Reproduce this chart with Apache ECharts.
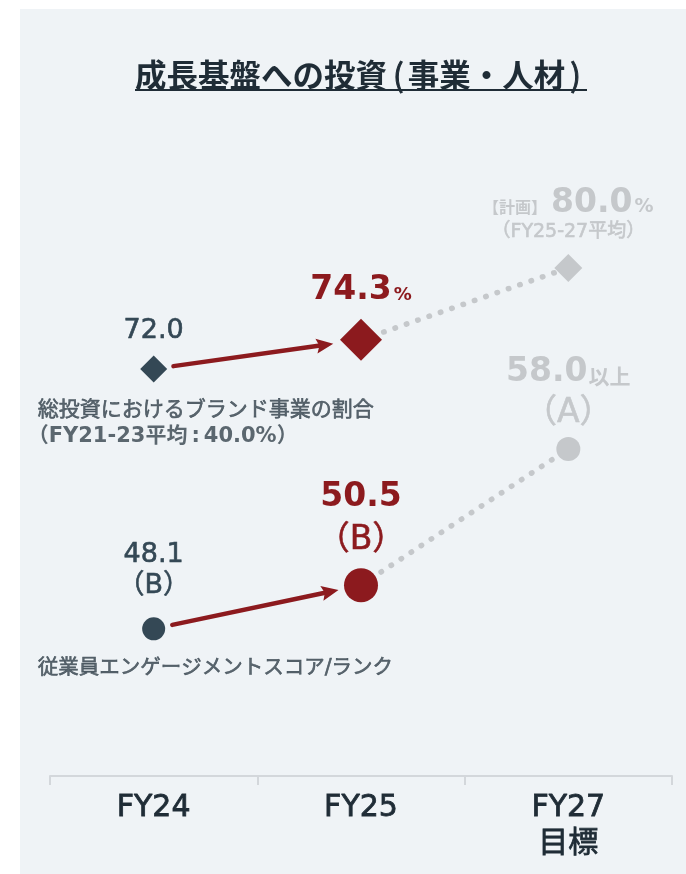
<!DOCTYPE html>
<html>
<head>
<meta charset="utf-8">
<script src="https://cdn.jsdelivr.net/npm/echarts@6/dist/echarts.min.js"></script>
<style>
  html, body { margin: 0; padding: 0; background: #ffffff; }
  #chart { position: absolute; left: 20px; top: 9px; width: 666px; height: 865px; background: #eff3f6; }
</style>
</head>
<body>
<div id="chart"></div>
<script>
// Fiscal years and their axis captions
const categories = ['FY24', 'FY25', 'FY27'];
const categoryLabels = ['FY24', 'FY25', 'FY27\n目標'];

// Share of total investment going to the brand business (%)
const brandShare = [72.0, 74.3, 80.0];
// Employee engagement score and rank
const engagementScore = [48.1, 50.5, 58.0];
const engagementRank = ['B', 'B', 'A'];

const titleParts = ['成長基盤への投資', '事業・人材'];
const brandCaption = ['総投資におけるブランド事業の割合', '（FY21-23平均', '40.0%）'];
const engagementCaption = '従業員エンゲージメントスコア/ランク';
const planPrefix = '【計画】';
const planNote = '（FY25-27平均）';
const targetSuffix = '以上';

const CJK = "'Noto Sans CJK JP', sans-serif";
const LAT = "'DejaVu Sans', 'Noto Sans CJK JP', sans-serif";
const DARK = '#344855';
const TEXT_DARK = '#1f2c36';
const CAPTION = '#36434d';
const RED = '#8c1a1e';
const GRAY = '#c5c8cb';
const BG = '#eff3f6';

// slight outline in the text colour gives a medium weight
const medium = color => ({ textBorderColor: color, textBorderWidth: 0.6 });

const rich = {
  dk: Object.assign({ fontFamily: LAT, fontSize: 27, color: DARK, lineHeight: 32 }, medium(DARK)),
  dkP: Object.assign({ fontFamily: LAT, fontSize: 27, color: DARK, lineHeight: 30 }, medium(DARK)),
  rd: { fontFamily: LAT, fontSize: 33, fontWeight: 'bold', color: RED, lineHeight: 40 },
  rdS: { fontFamily: LAT, fontSize: 18, fontWeight: 'bold', color: RED, lineHeight: 18, verticalAlign: 'bottom', padding: [0, 0, 7, 2] },
  rdP: Object.assign({ fontFamily: LAT, fontSize: 33, color: RED, lineHeight: 46 }, medium(RED)),
  gy: { fontFamily: LAT, fontSize: 33, fontWeight: 'bold', color: GRAY, lineHeight: 40 },
  gyH: { fontFamily: LAT, fontSize: 33, fontWeight: 'bold', color: GRAY, lineHeight: 32 },
  gyS: { fontFamily: LAT, fontSize: 19, fontWeight: 'bold', color: GRAY, lineHeight: 19, verticalAlign: 'bottom', padding: [0, 0, 3, 2] },
  gyJ: { fontFamily: CJK, fontSize: 21, fontWeight: 'bold', color: GRAY, lineHeight: 21, verticalAlign: 'bottom', padding: [0, 0, 6, 1] },
  gyT: { fontFamily: CJK, fontSize: 16, fontWeight: 'bold', color: GRAY, lineHeight: 16, verticalAlign: 'bottom', padding: [0, 4, 5, 0] },
  gyN: Object.assign({ fontFamily: LAT, fontSize: 19, color: GRAY, lineHeight: 24 }, medium(GRAY)),
  gyP: Object.assign({ fontFamily: LAT, fontSize: 33, color: GRAY, lineHeight: 42 }, medium(GRAY))
};

// Marker appearance per year: past, current, target
const brandMarkers = [
  { symbol: 'diamond', size: 27, color: DARK },
  { symbol: 'diamond', size: 42, color: RED },
  { symbol: 'diamond', size: 28, color: GRAY }
];
const engagementMarkers = [
  { symbol: 'circle', size: 23, color: DARK },
  { symbol: 'circle', size: 34, color: RED },
  { symbol: 'circle', size: 24, color: GRAY }
];

const fmt1 = v => v.toFixed(1);
const rank = r => `（${r}）`;

const brandLabels = [
  { text: `{dk|${fmt1(brandShare[0])}}`, distance: 8 },
  { text: `{rd|${fmt1(brandShare[1])}}{rdS|%}`, distance: 8 },
  { text: `{gyT|${planPrefix}}{gyH|${fmt1(brandShare[2])}}{gyS|%}\n{gyN|${planNote}}`, distance: 10 }
];
const engagementLabels = [
  { text: `{dk|${fmt1(engagementScore[0])}}\n{dkP|${rank(engagementRank[0])}}`, distance: 16 },
  { text: `{rd|${fmt1(engagementScore[1])}}\n{rdP|${rank(engagementRank[1])}}`, distance: 5 },
  { text: `{gy|${fmt1(engagementScore[2])}}{gyJ|${targetSuffix}}\n{gyP|${rank(engagementRank[2])}}`, distance: 2 }
];

function markerData(values, markers, labels) {
  return values.map((v, i) => ({
    value: [categories[i], v],
    symbol: markers[i].symbol,
    symbolSize: markers[i].size,
    itemStyle: { color: markers[i].color, opacity: 1 },
    label: {
      show: true,
      position: 'top',
      distance: labels[i].distance,
      formatter: labels[i].text,
      rich: rich
    }
  }));
}

// Red arrow from the FY24 mark towards the FY25 mark, trimmed at both ends
function arrowRenderer(startGap, endGap) {
  return function (params, api) {
    const p0 = api.coord([api.value(0), api.value(1)]);
    const p1 = api.coord([api.value(2), api.value(3)]);
    const dx = p1[0] - p0[0], dy = p1[1] - p0[1];
    const len = Math.sqrt(dx * dx + dy * dy);
    const ux = dx / len, uy = dy / len;
    const sx = p0[0] + ux * startGap, sy = p0[1] + uy * startGap;
    const tx = p1[0] - ux * endGap, ty = p1[1] - uy * endGap;
    const headLen = 17, headHalf = 7.5;
    const bx = tx - ux * headLen, by = ty - uy * headLen;
    return {
      type: 'group',
      children: [
        {
          type: 'line',
          shape: { x1: sx, y1: sy, x2: bx + ux * 2, y2: by + uy * 2 },
          style: { stroke: RED, lineWidth: 4.5, lineCap: 'round' }
        },
        {
          type: 'polygon',
          shape: { points: [[tx, ty], [bx - uy * headHalf, by + ux * headHalf], [bx + ux * 3, by + uy * 3], [bx + uy * headHalf, by - ux * headHalf]] },
          style: { fill: RED }
        }
      ]
    };
  };
}

const dotted = {
  color: GRAY,
  width: 5.5,
  type: [0.5, 11.5],
  cap: 'round'
};

const captionText = size => Object.assign({ fontFamily: CJK, fontSize: size, color: CAPTION, lineHeight: 28 }, medium(CAPTION));

const chart = echarts.init(document.getElementById('chart'), null, { renderer: 'canvas' });

chart.setOption({
  backgroundColor: BG,
  animation: false,
  grid: { left: 30, right: 14, top: 91, bottom: 98 },
  graphic: [
    {
      type: 'text',
      left: 115,
      top: 50,
      style: {
        text: `{t|${titleParts[0]}}{po|(}{t|${titleParts[1]}}{pc|)}`,
        rich: {
          t: { fontFamily: CJK, fontSize: 31.5, fontWeight: 'bold', fill: TEXT_DARK, lineHeight: 32 },
          po: { fontFamily: CJK, fontSize: 31.5, fill: TEXT_DARK, lineHeight: 32, padding: [0, 4, 0, 6], stroke: TEXT_DARK, lineWidth: 1 },
          pc: { fontFamily: CJK, fontSize: 31.5, fill: TEXT_DARK, lineHeight: 32, padding: [0, 6, 0, 5], stroke: TEXT_DARK, lineWidth: 1 }
        }
      }
    },
    {
      type: 'rect',
      shape: { x: 115, y: 80, width: 452, height: 2 },
      style: { fill: TEXT_DARK }
    }
  ],
  xAxis: {
    type: 'category',
    data: categories,
    boundaryGap: true,
    axisLine: { show: true, lineStyle: { color: '#d3d7db', width: 2 } },
    axisTick: { show: true, length: 9, lineStyle: { color: '#d3d7db', width: 2 } },
    axisLabel: {
      margin: 14,
      fontFamily: LAT,
      fontSize: 30,
      color: TEXT_DARK,
      textBorderColor: TEXT_DARK,
      textBorderWidth: 0.8,
      lineHeight: 36,
      formatter: (v, i) => categoryLabels[i]
    },
    splitLine: { show: false }
  },
  yAxis: [
    { type: 'value', min: 39.75, max: 93.3, show: false },
    { type: 'value', min: 40, max: 77.2, show: false }
  ],
  series: [
    // dotted projections to the FY27 targets
    {
      type: 'line', yAxisIndex: 0, z: 1, symbol: 'none', silent: true,
      data: [null, brandShare[1], brandShare[2]],
      lineStyle: dotted
    },
    {
      type: 'line', yAxisIndex: 1, z: 1, symbol: 'none', silent: true,
      data: [null, engagementScore[1], engagementScore[2]],
      lineStyle: dotted
    },
    // FY24 -> FY25 arrows
    {
      type: 'custom', yAxisIndex: 0, z: 2, clip: false, silent: true,
      renderItem: arrowRenderer(20, 28),
      data: [[0, brandShare[0], 1, brandShare[1]]]
    },
    {
      type: 'custom', yAxisIndex: 1, z: 2, clip: false, silent: true,
      renderItem: arrowRenderer(19, 23),
      data: [[0, engagementScore[0], 1, engagementScore[1]]]
    },
    // marks with value labels
    {
      type: 'scatter', yAxisIndex: 0, z: 3,
      data: markerData(brandShare, brandMarkers, brandLabels)
    },
    {
      type: 'scatter', yAxisIndex: 1, z: 3,
      data: markerData(engagementScore, engagementMarkers, engagementLabels)
    },
    // captions under the FY24 marks
    {
      type: 'scatter', yAxisIndex: 0, z: 3, silent: true,
      symbolSize: 1, itemStyle: { color: 'transparent' },
      data: [[categories[0], brandShare[0]]],
      label: {
        show: true, position: 'bottom', align: 'left',
        distance: 25, offset: [-126, 0],
        formatter: `{c1|${brandCaption[0]}}\n{c2|${brandCaption[1]}}{cc|:}{c2|${brandCaption[2]}}`,
        rich: {
          c1: Object.assign(captionText(21), { padding: [0, 0, 0, 10] }),
          c2: Object.assign(captionText(21), { fontFamily: LAT, fontWeight: 'bold', textBorderWidth: 0 }),
          cc: Object.assign(captionText(21), { fontFamily: LAT, fontWeight: 'bold', textBorderWidth: 0, padding: [0, 4, 0, 4] })
        }
      }
    },
    {
      type: 'scatter', yAxisIndex: 1, z: 3, silent: true,
      symbolSize: 1, itemStyle: { color: 'transparent' },
      data: [[categories[0], engagementScore[0]]],
      label: {
        show: true, position: 'bottom', align: 'left',
        distance: 25, offset: [-116, 0],
        formatter: `{c|${engagementCaption}}`,
        rich: { c: Object.assign(captionText(20.5), { fontFamily: LAT }) }
      }
    }
  ]
});
</script>
</body>
</html>
